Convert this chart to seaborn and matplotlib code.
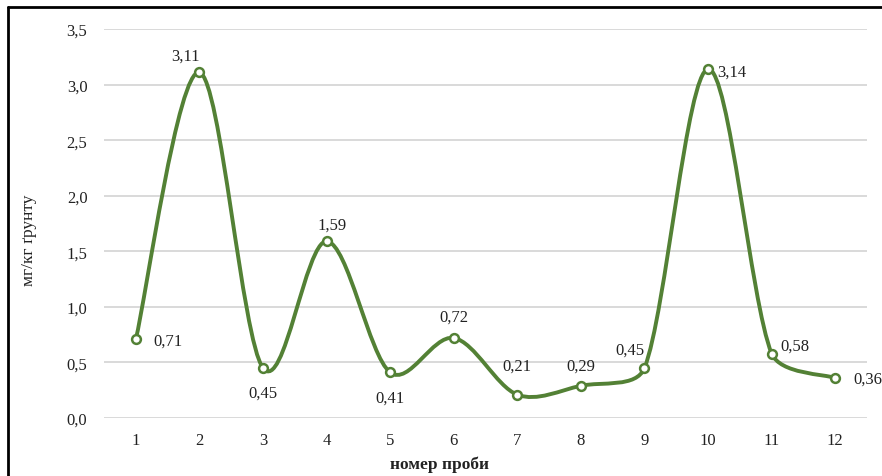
import numpy as np
import pandas as pd
import seaborn as sns
import matplotlib.pyplot as plt
from matplotlib.path import Path
from matplotlib.patches import PathPatch
from matplotlib.lines import Line2D
from matplotlib.ticker import FuncFormatter

# samples and concentration (mg/kg of soil)
samples = [1, 2, 3, 4, 5, 6, 7, 8, 9, 10, 11, 12]
values = [0.71, 3.11, 0.45, 1.59, 0.41, 0.72, 0.21, 0.29, 0.45, 3.14, 0.58, 0.36]
y_ticks = [0.0, 0.5, 1.0, 1.5, 2.0, 2.5, 3.0, 3.5]

x_label = 'номер проби'
y_label = 'мг/кг ґрунту'

line_color = '#538135'

sns.set_theme(style='white')
plt.rcParams['font.family'] = ['Liberation Serif', 'DejaVu Serif']

df = pd.DataFrame({'sample': samples, 'value': values})

fig = plt.figure(figsize=(8.82, 4.77), dpi=100)
ax = fig.add_axes([0.118, 0.1216, 0.865, 0.8155])
ax.set_xlim(0.5, 12.5)
ax.set_ylim(0, 3.5)

# excel-like smoothed line: catmull-rom in screen space, arms capped by segment length
def smooth_path(xs, ys, cap=0.33):
    pts = ax.transData.transform(np.column_stack([xs, ys]).astype(float))
    n = len(pts)
    verts = [pts[0]]
    codes = [Path.MOVETO]
    for i in range(n - 1):
        p0 = pts[i - 1] if i > 0 else pts[i]
        p1 = pts[i]
        p2 = pts[i + 1]
        p3 = pts[i + 2] if i + 2 < n else pts[i + 1]
        seg = np.hypot(*(p2 - p1))
        a1 = (p2 - p0) / 6
        a2 = (p3 - p1) / 6
        for a in (a1, a2):
            ln = np.hypot(*a)
            if ln > cap * seg:
                a *= cap * seg / ln
        verts += [p1 + a1, p2 - a2, p2]
        codes += [Path.CURVE4] * 3
    verts = ax.transData.inverted().transform(np.array(verts))
    return Path(verts, codes)

patch = PathPatch(smooth_path(df['sample'], df['value']), facecolor='none',
                  edgecolor=line_color, lw=2.8, capstyle='round', zorder=3)
ax.add_patch(patch)

sns.scatterplot(data=df, x='sample', y='value', ax=ax, s=40, marker='o',
                facecolor='white', edgecolor=line_color, linewidth=1.8,
                zorder=4, legend=False)

# data label placement (pixel offsets, alignment)
offsets = {
    0: (18, -2, 'left'),
    1: (-14, 17, 'center'),
    2: (0, -25, 'center'),
    3: (5, 17, 'center'),
    4: (0, -25, 'center'),
    5: (0, 21, 'center'),
    6: (0, 29, 'center'),
    7: (0, 20, 'center'),
    8: (-15, 18, 'center'),
    9: (9, -3, 'left'),
    10: (9, 8, 'left'),
    11: (18, -1, 'left'),
}
for i, (sx, v) in enumerate(zip(samples, values)):
    dx, dy, ha = offsets[i]
    ax.annotate(f'{v:.2f}'.replace('.', ','), (sx, v), xytext=(dx * 0.72, dy * 0.72),
                textcoords='offset points', ha=ha, va='center', fontsize=12,
                color='#222222', annotation_clip=False)

ax.set_xticks(samples)
ax.set_yticks(y_ticks)
ax.yaxis.set_major_formatter(FuncFormatter(lambda v, p: f'{v:.1f}'.replace('.', ',')))
ax.tick_params(axis='both', length=0, labelsize=12, colors='#222222')
ax.tick_params(axis='y', pad=12)
ax.tick_params(axis='x', pad=10)
ax.grid(axis='y', color='#d9d9d9', lw=1.4)
ax.set_axisbelow(True)
for s in ax.spines.values():
    s.set_visible(False)

ax.set_xlabel(x_label, fontsize=12.5, fontweight='bold', color='#222222')
ax.set_ylabel(y_label, fontsize=12.5, color='#222222')
ax.xaxis.set_label_coords(0.439, -0.097)
ax.yaxis.set_label_coords(-0.088, 0.46)

# outer frame (left and top edges visible in the crop)
fig.add_artist(Line2D([7.5 / 882, 7.5 / 882], [0, 1 - 7.5 / 477], color='black', lw=2))
fig.add_artist(Line2D([7.5 / 882, 1], [1 - 7.5 / 477, 1 - 7.5 / 477], color='black', lw=2))

fig.savefig('out.png', dpi=100)
